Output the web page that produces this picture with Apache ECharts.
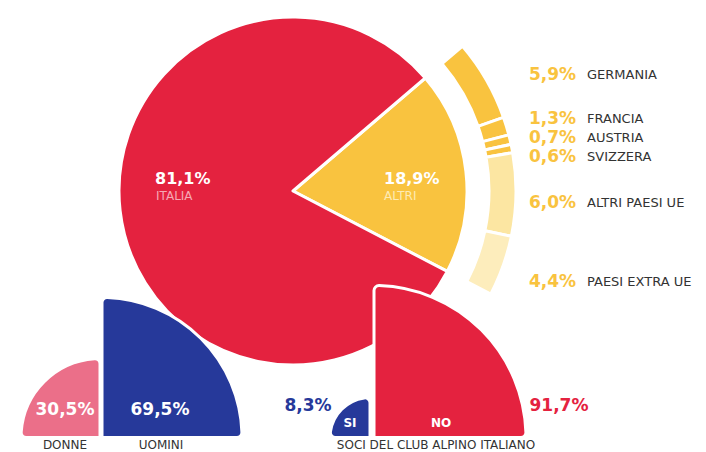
<!DOCTYPE html>
<html>
<head>
<meta charset="utf-8">
<script src="https://cdn.jsdelivr.net/npm/echarts@6/dist/echarts.min.js"></script>
<style>
html, body { margin: 0; padding: 0; background: #fff; }
#chart { width: 706px; height: 452px; }
</style>
</head>
<body>
<div id="chart"></div>
<script>
// provenienza
const origine = ['ITALIA', 'ALTRI'];
const origineVal = [81.1, 18.9];
// dettaglio degli altri
const paesi = ['GERMANIA', 'FRANCIA', 'AUSTRIA', 'SVIZZERA', 'ALTRI PAESI UE', 'PAESI EXTRA UE'];
const paesiVal = [5.9, 1.3, 0.7, 0.6, 6.0, 4.4];
// genere
const genere = ['DONNE', 'UOMINI'];
const genereVal = [30.5, 69.5];
// soci CAI
const soci = ['SI', 'NO'];
const sociVal = [8.3, 91.7];
const sociTitolo = 'SOCI DEL CLUB ALPINO ITALIANO';

const ROSSO = '#E4223F';
const GIALLO = '#F9C33F';
const BLU = '#26399A';
const ROSA = '#EB6F89';
const coloriPaesi = [GIALLO, GIALLO, GIALLO, GIALLO, '#FCE6A2', '#FDEDBC'];
const FONT = 'DejaVu Sans';

const pct = v => v.toFixed(1).replace('.', ',') + '%';

const chart = echarts.init(document.getElementById('chart'), null, { renderer: 'svg' });

const centro = [293, 191];
const inizio = 40.5; // angolo di partenza della fetta ALTRI
const totale = origineVal[0] + origineVal[1];
const fine = inizio - 360 * origineVal[1] / totale;

const bordo = { borderColor: '#fff', borderWidth: 3 };
const base = {
  type: 'pie',
  silent: true,
  clockwise: true,
  label: { show: false },
  labelLine: { show: false },
  emphasis: { disabled: true }
};

// quarto di cerchio
function quarto(nome, valore, colore, c, r, sinistra) {
  return Object.assign({}, base, {
    center: c,
    radius: r,
    startAngle: sinistra ? 180 : 90,
    endAngle: sinistra ? 90 : 0,
    itemStyle: Object.assign({ borderRadius: 5 }, bordo),
    data: [{ name: nome, value: valore, itemStyle: { color: colore } }]
  });
}

function testo(t, x, y, size, colore, peso, allinea) {
  return {
    type: 'text',
    z: 100,
    style: {
      text: t, x: x, y: y,
      fill: colore,
      font: (peso || 'normal') + ' ' + size + 'px "' + FONT + '"',
      textAlign: allinea || 'center', align: allinea || 'center',
      textVerticalAlign: 'middle', verticalAlign: 'middle'
    }
  };
}

const yPaesi = [74, 118, 137, 156, 202, 281];
const grafica = [];
grafica.push(testo(pct(origineVal[0]), 155, 178, 16, '#fff', 'bold', 'left'));
grafica.push(testo(origine[0], 156, 196, 12, '#F6A9B4', 'normal', 'left'));
grafica.push(testo(pct(origineVal[1]), 384, 178, 16, '#fff', 'bold', 'left'));
grafica.push(testo(origine[1], 384, 196, 12, '#FDEBB5', 'normal', 'left'));
paesi.forEach((p, i) => {
  grafica.push(testo(pct(paesiVal[i]), 529, yPaesi[i], 17, GIALLO, 'bold', 'left'));
  grafica.push(testo(p, 587, yPaesi[i], 13, '#333', 'normal', 'left'));
});
grafica.push(testo(pct(genereVal[0]), 65, 409, 17, '#fff', 'bold'));
grafica.push(testo(pct(genereVal[1]), 160, 409, 17, '#fff', 'bold'));
grafica.push(testo(genere[0], 65, 445, 12, '#333'));
grafica.push(testo(genere[1], 161, 445, 12, '#333'));
grafica.push(testo(pct(sociVal[0]), 308, 405, 17, BLU, 'bold'));
grafica.push(testo(soci[0], 350, 423, 12, '#fff', 'bold'));
grafica.push(testo(soci[1], 441, 423, 12, '#fff', 'bold'));
grafica.push(testo(pct(sociVal[1]), 559, 405, 17, ROSSO, 'bold'));
grafica.push(testo(sociTitolo, 436, 445, 12, '#333'));

const option = {
  animation: false,
  backgroundColor: '#fff',
  series: [
    Object.assign({}, base, {
      center: centro,
      radius: 174,
      startAngle: inizio,
      itemStyle: bordo,
      data: [
        { name: origine[1], value: origineVal[1], itemStyle: { color: GIALLO } },
        { name: origine[0], value: origineVal[0], itemStyle: { color: ROSSO } }
      ]
    }),
    Object.assign({}, base, {
      center: centro,
      radius: [196, 223],
      startAngle: inizio,
      endAngle: fine,
      itemStyle: bordo,
      data: paesi.map((p, i) => ({ name: p, value: paesiVal[i], itemStyle: { color: coloriPaesi[i] } }))
    }),
    quarto(genere[0], genereVal[0], ROSA, [100, 437.5], 79, true),
    quarto(genere[1], genereVal[1], BLU, [102, 437.5], 140, false),
    quarto(soci[0], sociVal[0], BLU, [370, 437.5], 40, true),
    quarto(soci[1], sociVal[1], ROSSO, [374, 437.5], 152, false)
  ],
  graphic: grafica
};

chart.setOption(option);
</script>
</body>
</html>
